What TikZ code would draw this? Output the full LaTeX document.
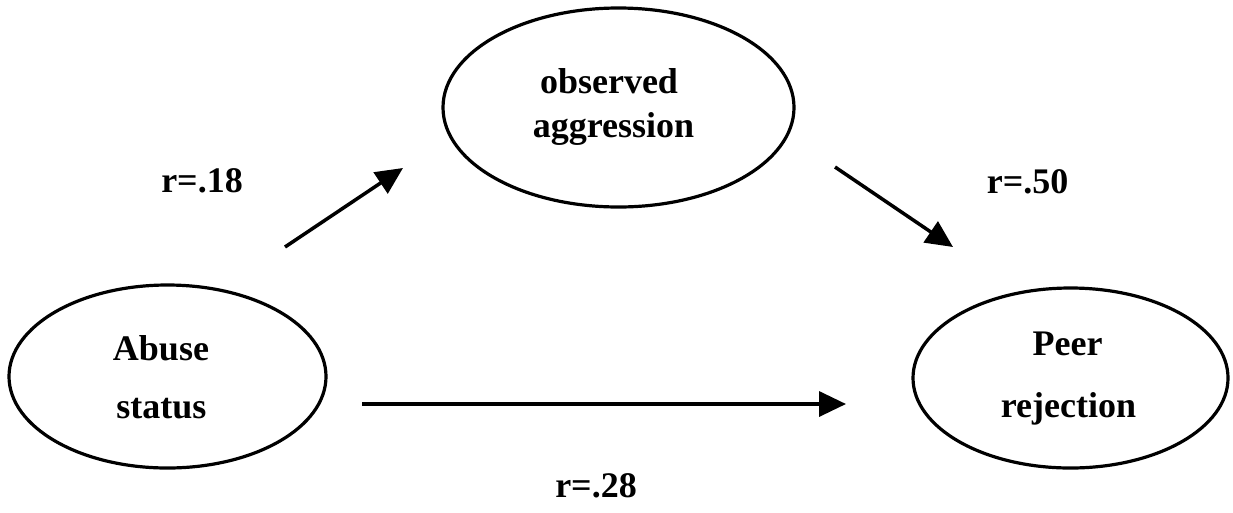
\documentclass[tikz,border=0pt]{standalone}
\usepackage{fontspec}
\setmainfont{Liberation Serif}
\usetikzlibrary{arrows.meta,shapes.geometric}
\begin{document}
\begin{tikzpicture}[x=1pt,y=-1pt,
  oval/.style={draw=black,line width=3.2pt,ellipse,inner sep=0pt},
  lbl/.style={font=\bfseries\fontsize{36}{40}\selectfont,anchor=base,inner sep=0pt},
  arr/.style={line width=3.5pt,-{Triangle[length=27pt,width=25pt]}}]
\useasboundingbox (0,0) rectangle (1233,512);
% ellipses
\node[oval,minimum width=317pt,minimum height=183pt] (abuse) at (167.5,376.5) {};
\node[oval,minimum width=351pt,minimum height=199pt] (aggr) at (618.5,107.5) {};
\node[oval,minimum width=315pt,minimum height=180pt] (peer) at (1070.5,378) {};
% texts
\node[lbl] (abuseA) at (161,360) {Abuse};
\node[lbl] (abuseB) at (161.5,418) {status};
\node[lbl] (aggrA) at (609,93) {observed};
\node[lbl] (aggrB) at (613.5,137) {aggression};
\node[lbl] (peerA) at (1067.5,355) {Peer};
\node[lbl] (peerB) at (1068.5,417) {rejection};
% labels
\node[lbl] (r18) at (202,192) {r=.18};
\node[lbl] (r50) at (1027.5,193) {r=.50};
\node[lbl] (r28) at (596,497) {r=.28};
% arrow endpoints
\coordinate (s1) at (285,247);
\coordinate (t1) at (403,168);
\coordinate (s2) at (835,167);
\coordinate (t2) at (953,247);
\coordinate (s3) at (362,404);
\coordinate (t3) at (846,404);
\draw[arr] (s1) -- (t1);
\draw[arr] (s2) -- (t2);
\draw[arr] (s3) -- (t3);
\end{tikzpicture}
\end{document}
